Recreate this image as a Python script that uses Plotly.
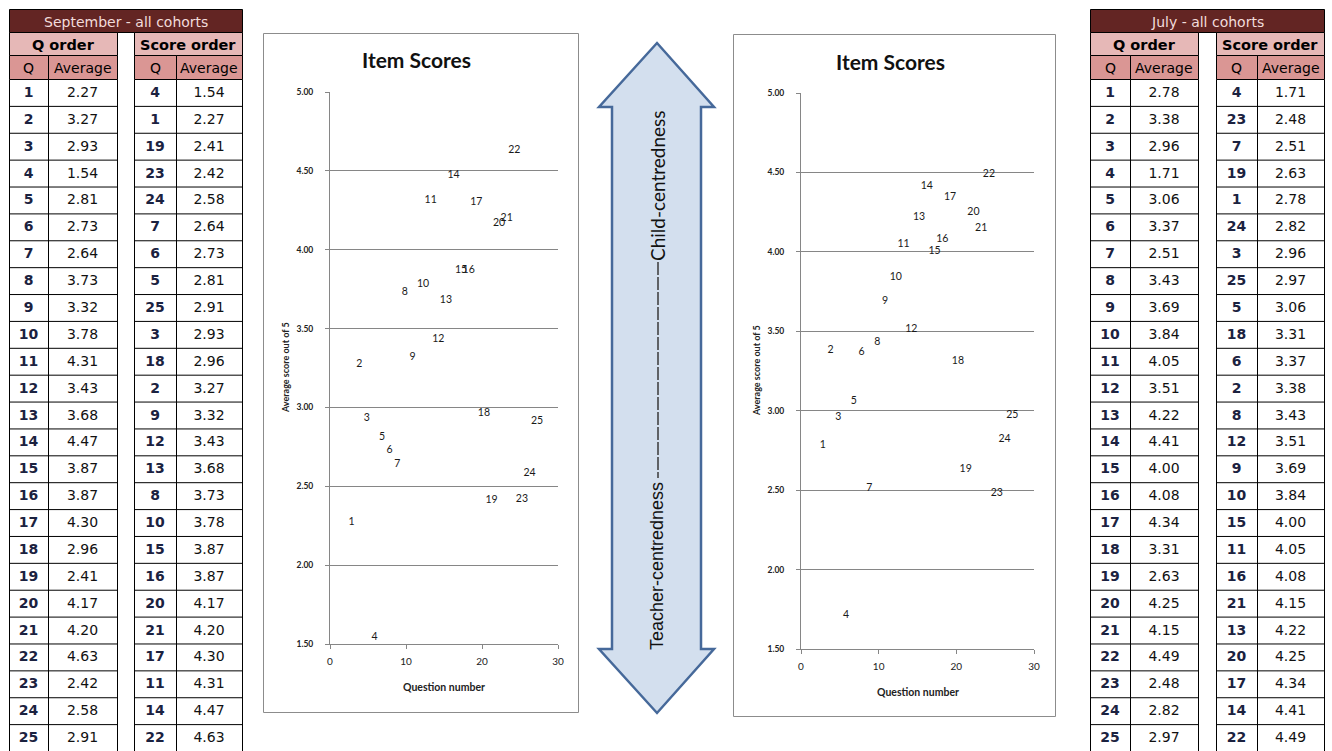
import plotly.graph_objects as go

# ---- data -------------------------------------------------------------
questions = list(range(1, 26))
september_avg = [2.27, 3.27, 2.93, 1.54, 2.81, 2.73, 2.64, 3.73, 3.32, 3.78,
                 4.31, 3.43, 3.68, 4.47, 3.87, 3.87, 4.30, 2.96, 2.41, 4.17,
                 4.20, 4.63, 2.42, 2.58, 2.91]
july_avg = [2.78, 3.38, 2.96, 1.71, 3.06, 3.37, 2.51, 3.43, 3.69, 3.84,
            4.05, 3.51, 4.22, 4.41, 4.00, 4.08, 4.34, 3.31, 2.63, 4.25,
            4.15, 4.49, 2.48, 2.82, 2.97]
y_ticks = [1.5, 2.0, 2.5, 3.0, 3.5, 4.0, 4.5, 5.0]
x_ticks = [0, 10, 20, 30]

# ---- page geometry (pixels) ------------------------------------------
W, H = 1332, 751
TITLE_TOP, GROUP_TOP, HEAD_TOP, BODY_TOP = 9, 32, 55, 79
ROW_H = (H - BODY_TOP) / 25

MAROON = "#632523"
PINK_LIGHT = "#E6B8B7"
PINK_DARK = "#DA9694"
GRID = "#868686"
TABLE_FONT = "DejaVu Sans"
CHART_FONT = "Lato"

fig = go.Figure()
shapes = []
annotations = []


def rect(x0, y0, x1, y1, fill, line="black", width=1, layer="below"):
    shapes.append(dict(type="rect", xref="x3", yref="y3", x0=x0 + 0.5, y0=y0 + 0.5,
                       x1=x1 + 0.5, y1=y1 + 0.5, fillcolor=fill,
                       line=dict(color=line, width=width), layer=layer))


def hline(x0, x1, y):
    shapes.append(dict(type="line", xref="x3", yref="y3", x0=x0 + 0.5, x1=x1 + 0.5,
                       y0=y + 0.5, y1=y + 0.5, line=dict(color="black", width=1)))


def vline(x, y0, y1):
    shapes.append(dict(type="line", xref="x3", yref="y3", x0=x + 0.5, x1=x + 0.5,
                       y0=y0 + 0.5, y1=y1 + 0.5, line=dict(color="black", width=1)))


def label(x, y, text, size=14, color="black", weight="normal", family=TABLE_FONT, angle=0):
    annotations.append(dict(xref="x3", yref="y3", x=x, y=y, text=text, showarrow=False,
                            textangle=angle,
                            font=dict(family=family, size=size, color=color, weight=weight)))


def half_table(cols, group_title, qs, vals):
    """One two-column block: Q / Average."""
    x0, xm, x1 = cols
    rect(x0, GROUP_TOP, x1, HEAD_TOP, PINK_LIGHT)
    label((x0 + x1) / 2, (GROUP_TOP + HEAD_TOP) / 2 + 1, group_title, size=14.5, weight="bold")
    rect(x0, HEAD_TOP, xm, BODY_TOP, PINK_DARK)
    rect(xm, HEAD_TOP, x1, BODY_TOP, PINK_DARK)
    label((x0 + xm) / 2, (HEAD_TOP + BODY_TOP) / 2 + 1, "Q")
    label((xm + x1) / 2, (HEAD_TOP + BODY_TOP) / 2 + 1, "Average")
    for i in range(1, 26):
        hline(x0, x1, BODY_TOP + i * ROW_H)
    for x in cols:
        vline(x, BODY_TOP, H)
    centers = [BODY_TOP + (i + 0.5) * ROW_H + 1 for i in range(len(qs))]
    fig.add_trace(go.Scatter(
        x=[(x0 + xm) / 2] * len(qs), y=centers, text=[str(q) for q in qs],
        mode="text", textposition="middle center", xaxis="x3", yaxis="y3",
        textfont=dict(family=TABLE_FONT, size=14, color="#1b2240", weight="bold"),
        hoverinfo="skip", showlegend=False, cliponaxis=False))
    fig.add_trace(go.Scatter(
        x=[(xm + x1) / 2] * len(vals), y=centers, text=[f"{v:.2f}" for v in vals],
        mode="text", textposition="middle center", xaxis="x3", yaxis="y3",
        textfont=dict(family=TABLE_FONT, size=14, color="#111111"),
        hoverinfo="skip", showlegend=False, cliponaxis=False))


def cohort_table(title, q_cols, s_cols, avgs):
    rect(q_cols[0], TITLE_TOP, s_cols[2], GROUP_TOP, MAROON)
    label((q_cols[0] + s_cols[2]) / 2, (TITLE_TOP + GROUP_TOP) / 2 + 1, title,
          size=14, color="#F2DCDB")
    half_table(q_cols, "Q order", questions, avgs)
    ranked = sorted(zip(questions, avgs), key=lambda t: t[1])
    half_table(s_cols, "Score order", [q for q, _ in ranked], [v for _, v in ranked])


cohort_table("September - all cohorts", (9, 48, 117), (134, 176, 242), september_avg)
cohort_table("July - all cohorts", (1090, 1130, 1198), (1216, 1257, 1324), july_avg)

# ---- scatter charts -----------------------------------------------------
charts = [
    # box, plot-area (left, top, right, bottom), values
    dict(box=(263, 33, 578, 712), area=(330, 92, 558, 644), vals=september_avg, ax="", title_y=59),
    dict(box=(733, 34, 1055, 716), area=(801, 93, 1034, 649), vals=july_avg, ax="2", title_y=61),
]

layout_axes = {}
for c in charts:
    bx0, by0, bx1, by1 = c["box"]
    shapes.append(dict(type="rect", xref="paper", yref="paper",
                       x0=(bx0 + 0.5) / W, x1=(bx1 + 0.5) / W,
                       y0=1 - (by0 + 0.5) / H, y1=1 - (by1 + 0.5) / H,
                       fillcolor="white", line=dict(color="#8c8c8c", width=1), layer="below"))
    L, T, R, B = c["area"]
    ax = c["ax"]
    fig.add_trace(go.Scatter(
        x=questions, y=c["vals"], text=[str(q) for q in questions],
        mode="markers+text", textposition="middle right",
        marker=dict(size=16, opacity=0),
        textfont=dict(family=CHART_FONT, size=10.5, color="#1a1a1a"),
        xaxis="x" + ax, yaxis="y" + ax, cliponaxis=False,
        hoverinfo="x+y", showlegend=False))
    layout_axes["xaxis" + ax] = dict(
        domain=[L / W, R / W], range=[0, 30], tickvals=x_ticks, anchor="y" + ax,
        showline=True, linecolor=GRID, linewidth=1, ticks="outside", ticklen=4,
        tickcolor=GRID, showgrid=False, zeroline=False, ticklabelstandoff=4,
        automargin=False,
        tickfont=dict(family=CHART_FONT, size=10, color="#222222"), fixedrange=True)
    layout_axes["yaxis" + ax] = dict(
        domain=[1 - B / H, 1 - T / H], range=[1.5, 5], tickvals=y_ticks, tickformat=".2f",
        anchor="x" + ax, showline=True, linecolor=GRID, linewidth=1, ticks="outside",
        ticklen=4, tickcolor=GRID, showgrid=True, gridcolor=GRID, gridwidth=1,
        zeroline=False, ticklabelstandoff=10, automargin=False,
        tickfont=dict(family=CHART_FONT, size=8.5, color="#222222", weight="bold"),
        fixedrange=True)
    label((bx0 + bx1) / 2 - 4, c["title_y"], "Item Scores", size=21, weight="bold",
          family=CHART_FONT, color="#111111")
    label((L + R) / 2, B + 43, "Question number", size=10.5, weight="bold",
          family=CHART_FONT, color="#222222")
    label(L - 45, (T + B) / 2, "Average score out of 5", size=9, weight="bold",
          family=CHART_FONT, color="#222222", angle=-90)

# ---- double-headed arrow between the charts ------------------------------
shapes.append(dict(
    type="path", xref="x3", yref="y3",
    path="M 657 43 L 714 107 L 701 107 L 701 649 L 714 649 L 657 713 "
         "L 599 649 L 612 649 L 612 107 L 599 107 Z",
    fillcolor="#D3DFEE", line=dict(color="#46699A", width=2.5), layer="below"))
shapes.append(dict(type="line", xref="x3", yref="y3", x0=658, x1=658, y0=262, y1=478,
                   line=dict(color="#3a3a3a", width=1.5, dash="13px,2px")))
label(657, 566, "Teacher-centredness", size=18, family="Liberation Sans",
      color="#111111", angle=-90)
label(657, 186, "Child-centredness", size=19, family=CHART_FONT,
      color="#111111", angle=-90)

fig.update_layout(
    width=W, height=H, margin=dict(l=0, r=0, t=0, b=0, pad=0, autoexpand=False),
    paper_bgcolor="white", plot_bgcolor="rgba(0,0,0,0)",
    showlegend=False, shapes=shapes, annotations=annotations,
    xaxis3=dict(domain=[0, 1], range=[0, W], visible=False, anchor="y3",
                fixedrange=True, automargin=False),
    yaxis3=dict(domain=[0, 1], range=[H, 0], visible=False, anchor="x3",
                fixedrange=True, automargin=False),
    **layout_axes)

fig.write_html("out.html")
